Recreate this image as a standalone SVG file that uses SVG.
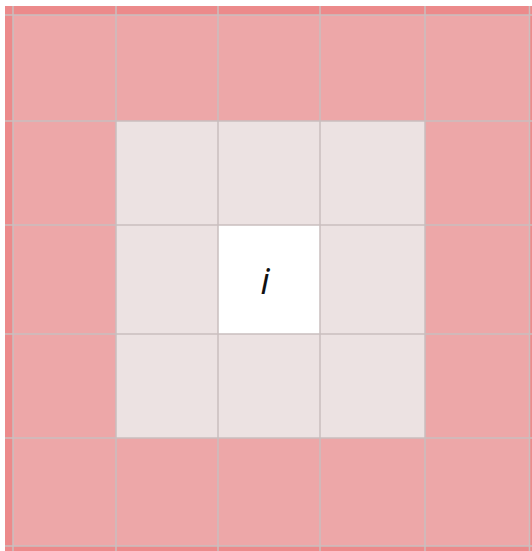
<svg xmlns="http://www.w3.org/2000/svg" width="532" height="551" viewBox="0 0 532 551">
<style>
.edge{fill:#ec8a8b}
.outer{fill:#eda7a8}
.inner{fill:#ece2e2}
.center{fill:#ffffff}
.grid{stroke:#c9bfbf;stroke-width:1.5;fill:none}
.lbl{font-family:"Open Sans","Noto Sans",sans-serif;font-style:italic;font-size:36px;fill:#111111}
</style>
<rect x="0" y="0" width="532" height="551" fill="#ffffff"/>
<g id="border">
<rect class="edge" x="5" y="6" width="527" height="545"/>
</g>
<g id="outer-ring">
<rect class="outer" x="13" y="15" width="516" height="531"/>
</g>
<g id="inner-ring">
<rect class="inner" x="116" y="121" width="309" height="317"/>
</g>
<g id="cell-i">
<rect class="center" x="218" y="225" width="102" height="109"/>
<text class="lbl" x="265" y="294" text-anchor="middle">i</text>
</g>
<g id="grid">
<path class="grid" d="M13 6V551M116 6V551M218 6V551M320 6V551M425 6V551M529.5 6V551"/>
<path class="grid" d="M5 15H532M5 121H532M5 225H532M5 334H532M5 438H532M5 546H532"/>
</g>
</svg>
